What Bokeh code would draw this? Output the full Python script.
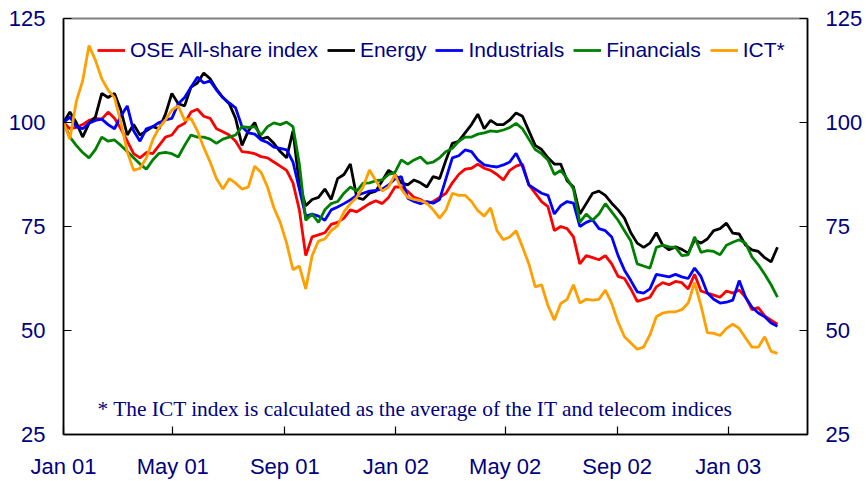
import pandas as pd
from bokeh.plotting import figure
from bokeh.models import (LinearAxis, FixedTicker, Label, Legend, LegendItem,
                          Range1d, ColumnDataSource)
from bokeh.embed import file_html
from bokeh.resources import INLINE

# ---------------- data (weekly readings, index 1 Jan 2001 = 100) ----------------
start_date = "2001-01-01"
n_weeks = 113

ose = [100, 98.5, 98.8, 99.5, 100.5, 101, 100.8, 102.5, 101, 98.5,
       95.5, 92.5, 91.5, 92.8, 92.5, 94.5, 96.5, 97, 99, 99.8,
       102.5, 103.2, 101.5, 101, 98.5, 97.8, 97, 95.5, 93, 92.8,
       92.5, 91.8, 91.5, 90.5, 89.5, 88.5, 85.5, 79, 68, 72.5,
       73, 73.5, 75.5, 76, 77, 79, 78.5, 79.5, 80.5, 81.2,
       80.5, 82, 84.5, 84.5, 83.5, 82, 81.5, 80.5, 81, 82,
       83, 85.5, 87.5, 88.8, 89, 90, 89, 88.5, 87.5, 86.2,
       88.5, 89.5, 90, 85, 83, 81, 79.8, 74, 75, 74.5,
       72.5, 66, 68, 67.5, 67, 68, 66, 63, 62.5, 60,
       57, 57.5, 58, 60.5, 61.5, 61, 61.8, 61.5, 60, 63.5,
       59.5, 59, 58.5, 58, 59.5, 59, 59.7, 58, 55, 55.5,
       53.5, 52.5, 51.5]

energy = [100, 102.5, 100, 96.5, 99.8, 101.3, 107, 106, 107, 103,
          97, 99.5, 97, 98, 99, 98.5, 102, 107, 104.5, 104,
          108.5, 109.5, 111.9, 110.5, 108, 106, 104.5, 101, 94.5, 98,
          100, 96, 96.5, 95, 93, 91.5, 98, 85, 80, 81.5,
          82, 84, 81.5, 86.5, 87.5, 90, 82, 81.5, 83, 83.5,
          86, 88.5, 87.5, 85.5, 85, 86.2, 85.5, 84.5, 87, 86.5,
          91, 95, 95.5, 97.5, 99.5, 102, 98.5, 100.5, 99.5, 99.5,
          100.6, 102.3, 101.5, 98, 94.5, 93.5, 91.5, 90, 90, 86,
          84.5, 78, 80.5, 83, 83.5, 82.5, 80.6, 79, 77, 73.5,
          71, 70, 71, 73.5, 70.5, 69.4, 70.1, 69.5, 68.6, 71.8,
          71, 72, 74, 74.5, 75.8, 73.4, 73.2, 70.5, 69.4, 69,
          67.5, 66.5, 70]

industrials = [100, 101.3, 99, 98.5, 99.8, 100.5, 100.8, 99.5, 98.5, 101.5,
               104, 98, 95.5, 98.5, 99, 100, 100.6, 101, 104.5, 106,
               108.5, 110.9, 109.5, 110, 107.8, 106, 104.7, 103.5, 99, 97.5,
               97.2, 95.8, 95.2, 94.1, 93.8, 93.4, 90.5, 84, 77.5, 78,
               77.5, 76.5, 79, 79.7, 80.5, 81.4, 82.5, 83, 83.5, 83.7,
               84, 85, 86.5, 87, 81.8, 81, 80.5, 81, 80.6, 81.5,
               86.5, 91.5, 92, 93.4, 93, 91, 89.8, 89.5, 89.3, 89.8,
               90.5, 92.6, 89.5, 85, 84, 83, 82.5, 78, 80, 81,
               80.6, 75, 76, 76.6, 74.5, 74, 72.5, 68, 64.5, 62,
               59.3, 59, 60, 63.5, 63.2, 62.9, 63.5, 62.9, 62.5, 65,
               63, 59, 57.5, 56.6, 56.8, 57.3, 62, 58, 55.6, 54.2,
               53.3, 51.8, 51]

financials = [100, 96.5, 94.5, 92.8, 91.5, 93.5, 96.5, 95.5, 95.8, 94.5,
              93, 91.5, 90, 88.8, 91, 92.6, 92.8, 92.5, 91.7, 94.5,
              97, 96.5, 96.5, 96, 95, 96, 96.5, 97, 99, 98.8,
              99, 97, 99, 99.9, 99.5, 100.1, 99, 90, 76.5, 78,
              76, 79, 80.5, 81, 83, 84.5, 83.5, 85.4, 85.5, 86,
              86.2, 87.5, 88, 91, 90, 91, 91.7, 90.2, 90.5, 91.5,
              93, 93.8, 95.5, 96.5, 96.5, 97.2, 97.5, 98, 97.8, 98.2,
              98.8, 99.8, 98.5, 96, 93.5, 92.5, 91, 87.5, 88.5, 86.5,
              84, 76, 78, 76.5, 78, 80.5, 78.5, 76.5, 74, 71.5,
              66, 65.5, 65, 70, 70.5, 70.1, 70, 68, 68.2, 72.5,
              68.8, 69.2, 69, 68.2, 70.5, 71.2, 71.8, 71, 67.7, 65.8,
              63.5, 61, 58]

ict = [100, 96, 105, 110, 118.5, 115, 110.5, 107.8, 106, 100,
       93, 88.5, 89, 91.5, 95.8, 98.8, 100.6, 103, 104, 100.5,
       101, 98, 94, 90.5, 86.5, 84, 86.5, 85.4, 84, 84.5,
       89.5, 88, 84.5, 79.5, 76, 71, 64.6, 65.5, 60, 68,
       71.5, 72, 74, 75.2, 78.5, 80.5, 82, 84.5, 88.6, 86,
       83.5, 84.5, 87.5, 84, 82, 81.5, 81.2, 80.6, 79, 77,
       79, 83, 82.5, 82.5, 81, 78.8, 77.5, 79.5, 74, 71.8,
       72.5, 74, 70.1, 66, 60.5, 61, 56, 52.5, 56.5, 57.5,
       61, 56.6, 57.5, 57.3, 57.5, 59.7, 56.5, 52, 48.5, 47,
       45.5, 46, 49, 53.3, 54.2, 54.5, 54.5, 55, 56.6, 61.5,
       56, 49.5, 49.3, 48.8, 50.5, 51.5, 50.5, 48.2, 46, 46,
       48.5, 45, 44.5]

series_names = ["OSE All-share index", "Energy", "Industrials", "Financials", "ICT*"]
series_colors = ["#FF0000", "#000000", "#0000FF", "#008000", "#FF9F00"]

tick_dates = ["2001-01-01", "2001-05-01", "2001-09-01", "2002-01-01",
              "2002-05-01", "2002-09-01", "2003-01-01"]
tick_labels = ["Jan 01", "May 01", "Sep 01", "Jan 02", "May 02", "Sep 02", "Jan 03"]
y_ticks = [25, 50, 75, 100, 125]
x_end_date = "2003-03-29"
footnote = "* The ICT index is calculated as the average of the IT and telecom indices"

# ---------------- build ----------------
t0 = pd.Timestamp(start_date)
dates = pd.date_range(start_date, periods=n_weeks, freq="7D")
day = [(d - t0).days for d in dates]
src = ColumnDataSource(dict(day=day, ose=ose, energy=energy, industrials=industrials,
                            financials=financials, ict=ict))
cols = ["ose", "energy", "industrials", "financials", "ict"]

tick_days = [(pd.Timestamp(d) - t0).days for d in tick_dates]
x_end = (pd.Timestamp(x_end_date) - t0).days

NAVY = "#000080"
FONT = "Liberation Sans"

p = figure(width=866, height=481, output_backend="svg", toolbar_location=None,
           x_range=Range1d(0, x_end), y_range=Range1d(25, 125),
           min_border_left=63, min_border_right=59, min_border_top=18, min_border_bottom=46,
           background_fill_color="white", border_fill_color="white")
p.grid.visible = False
p.outline_line_color = "#808080"
p.outline_line_width = 2

renderers = []
for c, col in zip(cols, series_colors):
    r = p.line("day", c, source=src, line_color=col, line_width=2.8)
    renderers.append(r)

# axes
xa = p.xaxis[0]
xa.ticker = FixedTicker(ticks=tick_days)
xa.major_label_overrides = {d: lab for d, lab in zip(tick_days, tick_labels)}
ya = p.yaxis[0]
ya.ticker = FixedTicker(ticks=y_ticks)
ra = LinearAxis(ticker=FixedTicker(ticks=y_ticks))
p.add_layout(ra, "right")

for ax in [xa, ya, ra]:
    ax.axis_line_color = "black"
    ax.axis_line_width = 1.5
    ax.major_tick_in = 8
    ax.major_tick_out = 0
    ax.major_tick_line_color = "black"
    ax.major_tick_line_width = 1.2
    ax.minor_tick_line_color = None
    ax.major_label_text_font = FONT
    ax.major_label_text_font_size = "22px"
    ax.major_label_text_color = NAVY
    ax.major_label_standoff = 18
xa.major_label_standoff = 19

legend = Legend(items=[LegendItem(label=n, renderers=[r]) for n, r in zip(series_names, renderers)],
                orientation="horizontal", location=(34, 372),
                background_fill_alpha=0, border_line_alpha=0,
                label_text_font=FONT, label_text_font_size="21px", label_text_color=NAVY,
                glyph_width=28, glyph_height=22, label_standoff=5, spacing=9,
                padding=0, margin=0)
p.add_layout(legend)

p.add_layout(Label(x=34, y=26, x_units="screen", y_units="screen",
                   text=footnote, text_font="Liberation Serif", text_font_size="21.4px",
                   text_color=NAVY, text_baseline="middle"))

open("out.html", "w").write(file_html(p, INLINE))
